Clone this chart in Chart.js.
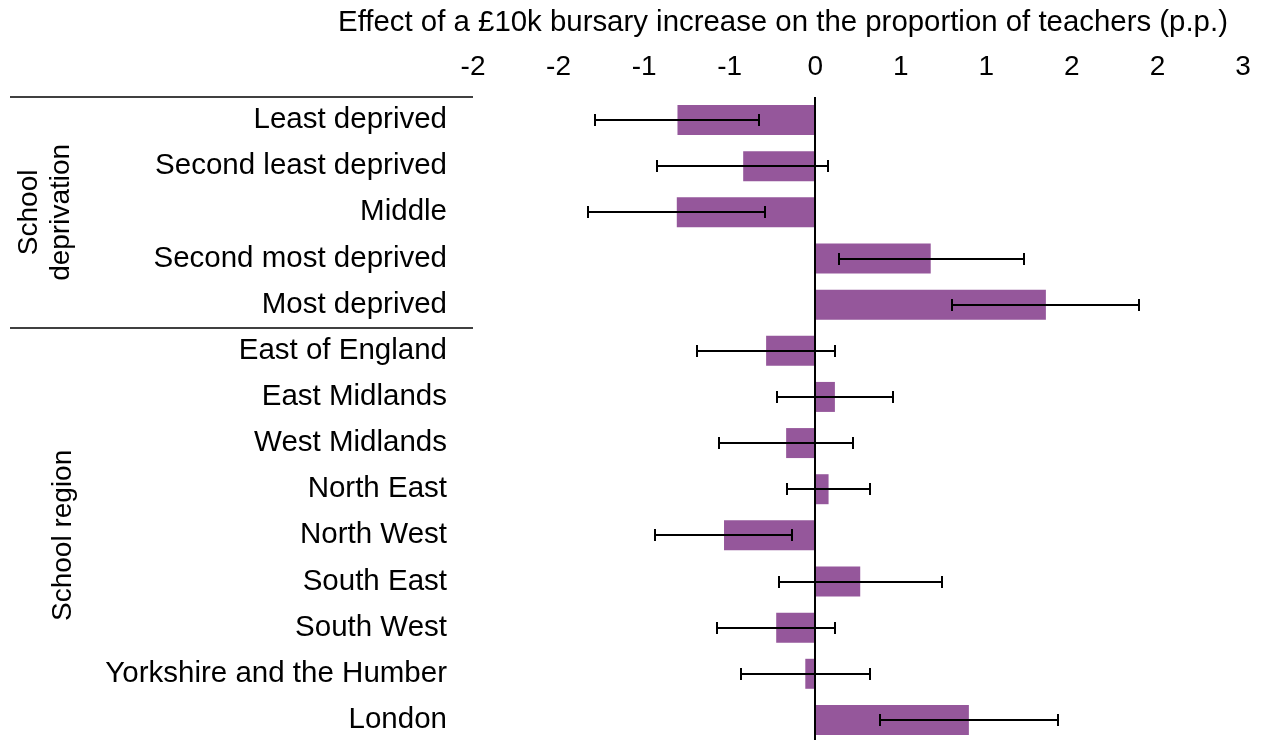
<!DOCTYPE html>
<html lang="en">
<head>
<meta charset="UTF-8">
<title>Bursary effect by school</title>
<script src="https://cdn.jsdelivr.net/npm/chart.js"></script>
<style>
    html, body { margin: 0; padding: 0; background: #fff; overflow: hidden; }
    canvas { display: block; }
</style>
</head>
<body>
<canvas id="grafico" width="1262" height="744"></canvas>

<script>
    const categorias = [
        'Least deprived', 'Second least deprived', 'Middle', 'Second most deprived', 'Most deprived',
        'East of England', 'East Midlands', 'West Midlands', 'North East', 'North West',
        'South East', 'South West', 'Yorkshire and the Humber', 'London'
    ];
    const efeito = [-0.805, -0.421, -0.809, 0.675, 1.348, -0.287, 0.115, -0.170, 0.078, -0.533, 0.263, -0.228, -0.058, 0.898];
    const icInferior = [-1.288, -0.922, -1.327, 0.139, 0.801, -0.693, -0.224, -0.560, -0.166, -0.935, -0.209, -0.572, -0.435, 0.376];
    const icSuperior = [-0.328, 0.077, -0.291, 1.220, 1.892, 0.117, 0.455, 0.220, 0.322, -0.134, 0.738, 0.117, 0.318, 1.417];
    const rotulosX = ['-2', '-2', '-1', '-1', '0', '1', '1', '2', '2', '3'];
    const tituloX = 'Effect of a £10k bursary increase on the proportion of teachers (p.p.)';
    const grupos = [
        { linhas: ['School', 'deprivation'], de: 0, ate: 4 },
        { linhas: ['School region'], de: 5, ate: 13 }
    ];

    const fonte = '"Liberation Sans", Arial, sans-serif';
    Chart.defaults.font.family = fonte;
    Chart.defaults.color = '#000';

    // zero line, error bars, axis title, group labels and separators
    const extras = {
        id: 'extras',
        afterDatasetsDraw(chart) {
            const { ctx, chartArea, scales: { x } } = chart;
            ctx.save();
            const x0 = Math.round(x.getPixelForValue(0));
            ctx.strokeStyle = '#000';
            ctx.lineWidth = 2;
            ctx.beginPath();
            ctx.moveTo(x0, chartArea.top);
            ctx.lineTo(x0, chartArea.bottom);
            ctx.stroke();

            const barras = chart.getDatasetMeta(0).data;
            barras.forEach((barra, i) => {
                const xa = Math.round(x.getPixelForValue(icInferior[i]));
                const xb = Math.round(x.getPixelForValue(icSuperior[i]));
                const y = Math.round(barra.y);
                ctx.lineWidth = 2;
                ctx.beginPath();
                ctx.moveTo(xa, y);
                ctx.lineTo(xb, y);
                ctx.moveTo(xa, y - 6);
                ctx.lineTo(xa, y + 6);
                ctx.moveTo(xb, y - 6);
                ctx.lineTo(xb, y + 6);
                ctx.stroke();
            });
            ctx.restore();
        },
        afterDraw(chart) {
            const { ctx, chartArea, scales: { y } } = chart;
            ctx.save();
            ctx.fillStyle = '#000';
            ctx.font = '29.4px ' + fonte;
            ctx.textAlign = 'center';
            ctx.textBaseline = 'middle';
            ctx.fillText(tituloX, 783, 23);

            const meio = (i) => y.getPixelForValue(i);
            const passo = meio(1) - meio(0);
            ctx.strokeStyle = '#000';
            ctx.lineWidth = 1.5;
            grupos.forEach(g => {
                const topo = Math.round(meio(g.de) - passo / 2);
                ctx.beginPath();
                ctx.moveTo(10, topo);
                ctx.lineTo(chartArea.left, topo);
                ctx.stroke();

                const centro = (meio(g.de) + meio(g.ate)) / 2;
                ctx.font = '28px ' + fonte;
                ctx.textAlign = 'center';
                ctx.textBaseline = 'alphabetic';
                const bases = g.linhas.length === 2 ? [37, 69] : [71];
                g.linhas.forEach((txt, k) => {
                    ctx.save();
                    ctx.translate(bases[k], centro);
                    ctx.rotate(-Math.PI / 2);
                    ctx.fillText(txt, 0, 0);
                    ctx.restore();
                });
            });
            ctx.restore();
        }
    };

    new Chart(document.getElementById('grafico'), {
        type: 'bar',
        data: {
            labels: categorias,
            datasets: [{
                data: efeito,
                backgroundColor: '#95579B',
                borderWidth: 0,
                barPercentage: 0.65,
                categoryPercentage: 1
            }]
        },
        options: {
            indexAxis: 'y',
            responsive: false,
            animation: false,
            devicePixelRatio: 1,
            layout: { padding: { top: 0, left: 0, right: 19, bottom: 1 } },
            plugins: {
                legend: { display: false },
                tooltip: { enabled: false }
            },
            scales: {
                x: {
                    type: 'linear',
                    position: 'top',
                    min: -2,
                    max: 2.5,
                    afterFit: (s) => {
                        s.height = 97;
                        s.paddingLeft = 0;
                        s.paddingRight = 0;
                    },
                    ticks: {
                        stepSize: 0.5,
                        autoSkip: false,
                        maxRotation: 0,
                        padding: 13,
                        font: { size: 28 },
                        callback: (v, i) => rotulosX[i]
                    },
                    grid: { display: false, drawTicks: false },
                    border: { display: false }
                },
                y: {
                    type: 'category',
                    afterFit: (s) => {
                        s.width = 473;
                        s.paddingTop = 0;
                        s.paddingBottom = 0;
                    },
                    ticks: {
                        autoSkip: false,
                        padding: 26,
                        font: { size: 29.5 }
                    },
                    grid: { display: false, drawTicks: false },
                    border: { display: false }
                }
            }
        },
        plugins: [extras]
    });
</script>
</body>
</html>
